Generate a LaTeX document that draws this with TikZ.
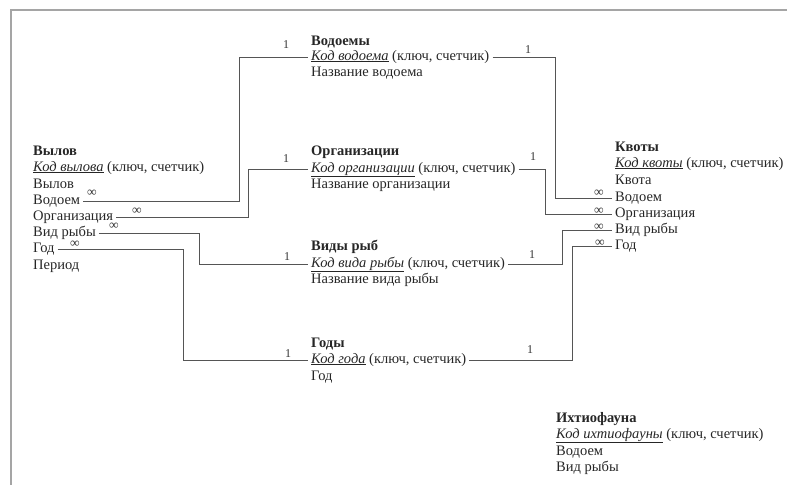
\documentclass[tikz,border=0pt]{standalone}
\usepackage{fontspec}
\setmainfont{Liberation Serif}
\usepackage{xcolor}
\usepackage{tikz}

\definecolor{framegray}{RGB}{165,165,165}
\definecolor{linkgray}{RGB}{85,85,85}

\newcommand{\keyfield}[1]{\underline{\textit{#1}} (ключ, счетчик)}

\begin{document}
\begin{tikzpicture}[
    x=1pt, y=-1pt,
    field/.style={anchor=base west, inner sep=3pt, xshift=-3pt, font=\fontsize{14.5}{16}\selectfont, text=black!85},
    tablehead/.style={field, font=\fontsize{14.5}{16}\selectfont\bfseries},
    link/.style={draw=linkgray, line width=0.9pt},
    card/.style={inner sep=0pt, font=\fontsize{12}{12}\selectfont, text=black!80},
    many/.style={card, font=\fontsize{13.5}{13.5}\selectfont},
    pageframe/.style={draw=framegray, line width=1.6pt}
]

\useasboundingbox (0,0) rectangle (787,485);

% Page frame
\coordinate (fr-top) at (11,10);
\coordinate (fr-right) at (787,10);
\coordinate (fr-bottom) at (11,485);
\draw[pageframe] (fr-right) -- (fr-top) -- (fr-bottom);

%==============================================================================
% Tables
%==============================================================================
\node[tablehead] (vlv-head) at (33,155) {Вылов};
\node[field] (vlv-key) at (33,171) {\keyfield{Код вылова}};
\node[field] (vlv-vyl) at (33,188) {Вылов};
\node[field] (vlv-vod) at (33,204) {Водоем};
\node[field] (vlv-org) at (33,220) {Организация};
\node[field] (vlv-vid) at (33,236) {Вид рыбы};
\node[field] (vlv-god) at (33,252) {Год};
\node[field] (vlv-per) at (33,269) {Период};

\node[tablehead] (vdm-head) at (311,45) {Водоемы};
\node[field] (vdm-key) at (311,60) {\keyfield{Код водоема}};
\node[field] (vdm-name) at (311,76) {Название водоема};

\node[tablehead] (org-head) at (311,155) {Организации};
\node[field] (org-key) at (311,172) {\keyfield{Код организации}};
\node[field] (org-name) at (311,188) {Название организации};

\node[tablehead] (vid-head) at (311,250) {Виды рыб};
\node[field] (vid-key) at (311,267) {\keyfield{Код вида рыбы}};
\node[field] (vid-name) at (311,283) {Название вида рыбы};

\node[tablehead] (god-head) at (311,347) {Годы};
\node[field] (god-key) at (311,363) {\keyfield{Код года}};
\node[field] (god-name) at (311,380) {Год};

\node[tablehead] (kvt-head) at (615,151) {Квоты};
\node[field] (kvt-key) at (615,167) {\keyfield{Код квоты}};
\node[field] (kvt-kvt) at (615,184) {Квота};
\node[field] (kvt-vod) at (615,201) {Водоем};
\node[field] (kvt-org) at (615,217) {Организация};
\node[field] (kvt-vid) at (615,233) {Вид рыбы};
\node[field] (kvt-god) at (615,249) {Год};

\node[tablehead] (ixt-head) at (556,422) {Ихтиофауна};
\node[field] (ixt-key) at (556,438) {\keyfield{Код ихтиофауны}};
\node[field] (ixt-vod) at (556,455) {Водоем};
\node[field] (ixt-vid) at (556,471) {Вид рыбы};

%==============================================================================
% Links: Вылов -> reference tables
%==============================================================================
\coordinate (bend-vod) at (239,0);
\coordinate (bend-org) at (248,0);
\coordinate (bend-vid) at (199,0);
\coordinate (bend-god) at (183,0);

\draw[link] (vlv-vod.mid east) -- (vlv-vod.mid east -| bend-vod) -- (vdm-key.mid west -| bend-vod) -- (vdm-key.mid west);
\draw[link] (vlv-org.mid east) -- (vlv-org.mid east -| bend-org) -- (org-key.mid west -| bend-org) -- (org-key.mid west);
\draw[link] (vlv-vid.mid east) -- (vlv-vid.mid east -| bend-vid) -- (vid-key.mid west -| bend-vid) -- (vid-key.mid west);
\draw[link] (vlv-god.mid east) -- (vlv-god.mid east -| bend-god) -- (god-key.mid west -| bend-god) -- (god-key.mid west);

\node[many] (inf-vlv-vod) at (92,193) {∞};
\node[many] (inf-vlv-org) at (137,211) {∞};
\node[many] (inf-vlv-vid) at (114,226) {∞};
\node[many] (inf-vlv-god) at (75,244) {∞};

\node[card] (one-vdm-l) at (286,45) {1};
\node[card] (one-org-l) at (286,159) {1};
\node[card] (one-vid-l) at (287,257) {1};
\node[card] (one-god-l) at (288,354) {1};

%==============================================================================
% Links: reference tables -> Квоты
%==============================================================================
\coordinate (bend-kvod) at (555,0);
\coordinate (bend-korg) at (545,0);
\coordinate (bend-kvid) at (562,0);
\coordinate (bend-kgod) at (572,0);

\draw[link] (vdm-key.mid east) -- (vdm-key.mid east -| bend-kvod) -- (kvt-vod.mid west -| bend-kvod) -- (kvt-vod.mid west);
\draw[link] (org-key.mid east) -- (org-key.mid east -| bend-korg) -- (kvt-org.mid west -| bend-korg) -- (kvt-org.mid west);
\draw[link] (vid-key.mid east) -- (vid-key.mid east -| bend-kvid) -- (kvt-vid.mid west -| bend-kvid) -- (kvt-vid.mid west);
\draw[link] (god-key.mid east) -- (god-key.mid east -| bend-kgod) -- (kvt-god.mid west -| bend-kgod) -- (kvt-god.mid west);

\node[card] (one-vdm-r) at (528,50) {1};
\node[card] (one-org-r) at (533,157) {1};
\node[card] (one-vid-r) at (532,255) {1};
\node[card] (one-god-r) at (530,350) {1};

\node[many] (inf-kvt-vod) at (599,193) {∞};
\node[many] (inf-kvt-org) at (599,211) {∞};
\node[many] (inf-kvt-vid) at (599,227) {∞};
\node[many] (inf-kvt-god) at (600,243) {∞};

\end{tikzpicture}
\end{document}
